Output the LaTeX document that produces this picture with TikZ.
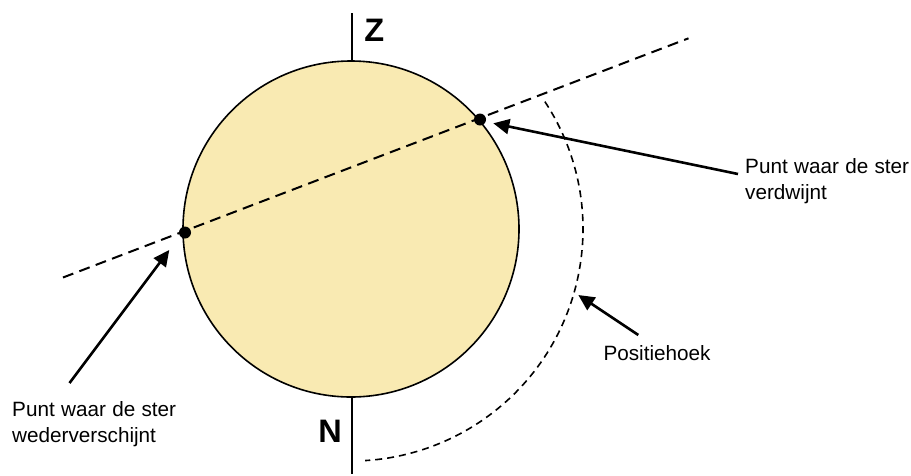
\documentclass[tikz,border=0pt]{standalone}
\usepackage{fontspec}
\setmainfont{Liberation Sans}
\newfontfamily\labelfont[WordSpace=1.1]{Liberation Sans}
\usetikzlibrary{arrows.meta,calc}
\definecolor{globefill}{RGB}{249,234,178}
\begin{document}
\begin{tikzpicture}[x=1pt,y=-1pt,
  label text/.style={font=\labelfont\fontsize{20.7}{26}\selectfont, align=left, inner sep=0pt, anchor=base west},
  pole text/.style={font=\fontsize{32.5}{36}\selectfont\bfseries, inner sep=0pt},
  pointer/.style={line width=2.6pt, -{Triangle[length=16pt,width=15pt]}},
  sightline/.style={line width=2pt, dash pattern=on 11pt off 6.5pt},
  anglearc/.style={line width=1.6pt, dash pattern=on 7pt off 5pt},
  stardot/.style={circle, fill=black, inner sep=0pt, minimum size=12pt}]
\useasboundingbox (0,0) rectangle (911,475);
% axis
\coordinate (axtop) at (352,13);
\coordinate (axbot) at (352,474);
\draw[line width=1.4pt] (axtop) -- (axbot);
% globe
\node[circle, draw, line width=1.6pt, fill=globefill, minimum size=336pt, inner sep=0pt] (globe) at (351,229) {};
% sight line
\coordinate (sl1) at (63,277.5);
\coordinate (sl2) at (688.5,38.3);
\draw[sightline] (sl1) -- (sl2);
% position angle arc
\draw[anglearc] ($(globe.center)+(-33.3:232)$) arc (-33.3:86.5:232);
% points
\node[stardot] (pout) at (480,119.5) {};
\node[stardot] (pin) at (185,232.5) {};
% labels
\node[pole text] (Z) at (374.3,30) {Z};
\node[pole text] (N) at (330,431.3) {N};
\node[label text] (tout) at (745,199.3) {Punt waar de ster\\verdwijnt};
\node[label text] (tin) at (12,442) {Punt waar de ster\\wederverschijnt};
\node[label text] (tpa) at (603.3,360.7) {Positiehoek};
% pointers
\coordinate (a1s) at (738,174);
\coordinate (a1e) at (493.3,123.3);
\coordinate (a2s) at (69.5,383);
\coordinate (a2e) at (169.3,250);
\coordinate (a3s) at (638.3,335);
\coordinate (a3e) at (578.3,295);
\draw[pointer] (a1s) -- (a1e);
\draw[pointer] (a2s) -- (a2e);
\draw[pointer] (a3s) -- (a3e);
\end{tikzpicture}
\end{document}
